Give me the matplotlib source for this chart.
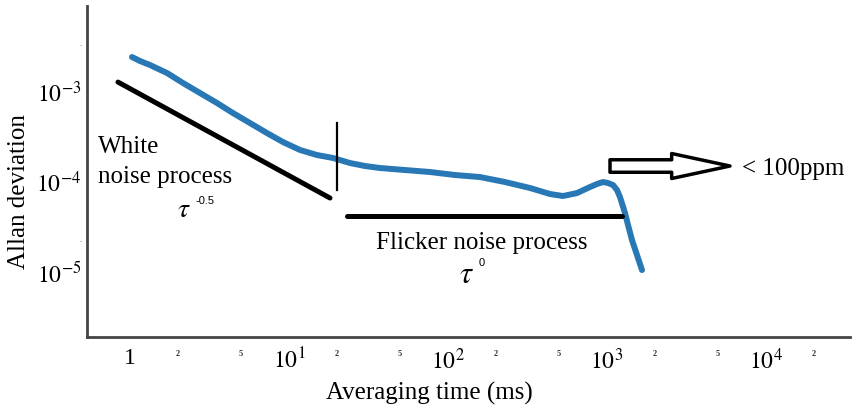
import matplotlib
matplotlib.use("Agg")
import matplotlib.pyplot as plt

plt.rcParams["font.family"] = ["Liberation Serif", "DejaVu Serif"]
plt.rcParams["mathtext.fontset"] = "stix"

# Allan deviation curve
tau_ms = [1.029, 1.156, 1.336, 1.709, 2.154, 2.755, 3.526, 4.443, 5.684, 7.27,
          9.17, 11.73, 15.0, 18.91, 24.19, 30.06, 37.35, 53.64, 77.07, 110.7,
          158.9, 228.3, 328.0, 438.0, 528.9, 647.7, 781.9, 865.0, 943.5,
          1014.6, 1091, 1156, 1207, 1298, 1356, 1436, 1544, 1660]
adev = [2.448e-3, 2.211e-3, 1.995e-3, 1.626e-3, 1.259e-3, 9.75e-4, 7.55e-4,
        5.84e-4, 4.52e-4, 3.50e-4, 2.78e-4, 2.27e-4, 1.995e-4, 1.85e-4,
        1.626e-4, 1.506e-4, 1.431e-4, 1.359e-4, 1.292e-4, 1.196e-4, 1.136e-4,
        1.0e-4, 8.58e-5, 7.36e-5, 6.99e-5, 7.54e-5, 8.80e-5, 9.50e-5, 1.0e-4,
        9.75e-5, 9.26e-5, 8.15e-5, 6.81e-5, 4.52e-5, 3.33e-5, 2.27e-5,
        1.545e-5, 1.052e-5]

# Guide lines for the noise regimes
white_x = [0.8404, 18.11]
white_y = [1.29e-3, 6.64e-5]
split_x = [20.04, 20.04]
split_y = [4.52e-4, 8.15e-5]
flicker_x = [23.16, 1243]
flicker_y = [4.19e-5, 4.19e-5]

# Axis ticks
x_major = [1, 10, 100, 1000, 10000]
x_major_labels = ["1", "$10^{1}$", "$10^{2}$", "$10^{3}$", "$10^{4}$"]
x_minor = [2, 5, 20, 50, 200, 500, 2000, 5000, 20000]
x_minor_labels = ["2", "5", "2", "5", "2", "5", "2", "5", "2"]
y_major = [1e-3, 1e-4, 1e-5]
y_major_labels = ["$10^{-3}$", "$10^{-4}$", "$10^{-5}$"]
y_minor = [3.5e-3, 2.3e-5]
y_minor_labels = [".", "."]

fig = plt.figure(figsize=(8.58, 4.11), dpi=100)
ax = fig.add_axes([87 / 858, 74 / 411, (850 - 87) / 858, (337 - 6) / 411])
ax.set_xscale("log")
ax.set_yscale("log")
ax.set_xlim(0.5366, 33750)
ax.set_ylim(1.897e-6, 9.03e-3)

ax.plot(tau_ms, adev, color="#2878b5", lw=4.3, solid_capstyle="round",
        solid_joinstyle="round")
ax.plot(white_x, white_y, color="black", lw=3.6, solid_capstyle="round")
ax.plot(split_x, split_y, color="black", lw=1.6)
ax.plot(flicker_x, flicker_y, color="black", lw=3.6, solid_capstyle="round")

# Hollow arrow pointing to the accuracy note
ax.annotate("", xy=(5937, 1.506e-4), xytext=(1044.5, 1.506e-4),
            arrowprops=dict(arrowstyle="simple,head_length=2.1,head_width=0.9,tail_width=0.45",
                            mutation_scale=20, fc="white", ec="black", lw=2.5,
                            shrinkA=0, shrinkB=0))
ax.text(7063, 1.20e-4, "< 100ppm", fontsize=18, ha="left", va="baseline")

ax.text(0.629, 2.10e-4, "White", fontsize=18, ha="left", va="baseline")
ax.text(0.629, 9.75e-5, "noise process", fontsize=18, ha="left", va="baseline")
ax.text(1.98, 4.08e-5, r"$\tau$", fontsize=20, ha="left", va="baseline")
ax.text(2.6, 5.7e-5, "-0.5", fontsize=8, family="Liberation Sans",
        ha="left", va="baseline")

ax.text(163.7, 1.80e-5, "Flicker noise process", fontsize=18, ha="center",
        va="baseline")
ax.text(117, 7.55e-6, r"$\tau$", fontsize=22, ha="left", va="baseline")
ax.text(156, 1.17e-5, "0", fontsize=8, family="Liberation Sans",
        ha="left", va="baseline")

for side in ("top", "right"):
    ax.spines[side].set_visible(False)
for side in ("left", "bottom"):
    ax.spines[side].set_color("#444444")
    ax.spines[side].set_linewidth(2)

ax.set_xticks(x_major)
ax.set_xticklabels(x_major_labels, fontsize=17)
ax.set_xticks(x_minor, minor=True)
ax.set_xticklabels(x_minor_labels, minor=True, fontsize=6, color="#333333",
                   fontweight="bold")
ax.set_yticks(y_major)
ax.set_yticklabels(y_major_labels, fontsize=17)
ax.set_yticks(y_minor, minor=True)
ax.set_yticklabels(y_minor_labels, minor=True, fontsize=6, color="#555555")
ax.tick_params(axis="x", which="major", length=0, pad=8)
ax.tick_params(axis="x", which="minor", length=0, pad=9)
ax.tick_params(axis="y", which="both", length=0, pad=4)

fig.text(429 / 858, 1 - 400 / 411, "Averaging time (ms)", fontsize=18,
         ha="center", va="baseline")
fig.text(19 / 858, 1 - 192 / 411, "Allan deviation", fontsize=18,
         rotation=90, ha="center", va="center")

fig.savefig("out.png", dpi=100)
